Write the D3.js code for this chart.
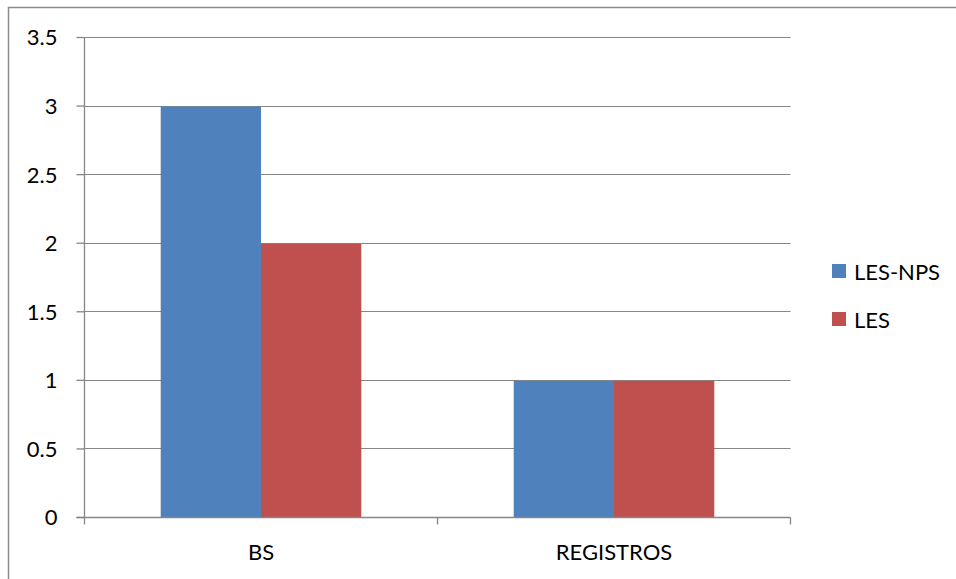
<!DOCTYPE html>
<html>
<head>
<meta charset="utf-8">
<script src="https://cdn.jsdelivr.net/npm/d3@7"></script>
<style>
  html, body { margin: 0; padding: 0; background: #fff; }
  svg { display: block; }
  text { font-family: Lato, "Open Sans", sans-serif; fill: #000; }
</style>
</head>
<body>
<svg id="chart" width="956" height="579"></svg>
<script>
const categories = ["BS", "REGISTROS"];
const seriesNames = ["LES-NPS", "LES"];
const lesNps = [3, 1];
const les = [2, 1];
const yTicks = [0, 0.5, 1, 1.5, 2, 2.5, 3, 3.5];
const colors = ["#4F81BD", "#C0504D"];

const svg = d3.select("#chart");
const W = 956, H = 579;
const plot = { left: 84.5, right: 790.5, top: 37, bottom: 517 };
const fontSize = 22;

// outer frame
svg.append("path")
  .attr("d", `M8.5,${H + 2} V7.5 H${W + 2}`)
  .attr("fill", "none").attr("stroke", "#8c8c8c").attr("stroke-width", 1.5);

const x0 = d3.scaleBand().domain(categories).range([plot.left, plot.right]);
const x1 = d3.scaleBand().domain(seriesNames)
  .range([0, x0.bandwidth()]).paddingOuter(0.76).paddingInner(0);
const y = d3.scaleLinear().domain([0, 3.5]).range([plot.bottom, plot.top]);

// horizontal gridlines
svg.append("g").selectAll("line").data(yTicks.filter(d => d > 0)).join("line")
  .attr("x1", plot.left).attr("x2", plot.right)
  .attr("y1", d => Math.round(y(d)) + 0.5).attr("y2", d => Math.round(y(d)) + 0.5)
  .attr("stroke", "#868686").attr("stroke-width", 1.2);

// bars
const data = categories.map((c, i) => ({ cat: c, vals: [lesNps[i], les[i]] }));
svg.append("g").selectAll("g").data(data).join("g")
  .attr("transform", d => `translate(${x0(d.cat)},0)`)
  .selectAll("rect").data(d => d.vals.map((v, j) => ({ s: seriesNames[j], v, j }))).join("rect")
  .attr("x", d => x1(d.s)).attr("width", x1.bandwidth())
  .attr("y", d => y(d.v) + 1).attr("height", d => plot.bottom - y(d.v) - 1)
  .attr("fill", d => colors[d.j]);

// y axis
const yAxis = svg.append("g").attr("transform", `translate(${plot.left},0)`)
  .call(d3.axisLeft(y).tickValues(yTicks).tickSize(8).tickPadding(19).tickFormat(d3.format("")));
yAxis.select(".domain").attr("d", `M0,${plot.top}V${plot.bottom + 0.5}`);
yAxis.selectAll("path, line").attr("stroke", "#868686").attr("stroke-width", 1.3);
yAxis.selectAll("text").attr("font-size", fontSize).attr("fill", "#000")
  .style("font-family", "Lato, 'Open Sans', sans-serif").attr("dy", "0.36em");

// x axis
const xAxis = svg.append("g").attr("transform", `translate(0,${plot.bottom + 0.5})`);
xAxis.append("line").attr("x1", plot.left - 8).attr("x2", plot.right)
  .attr("stroke", "#868686").attr("stroke-width", 1.3);
const xEdges = [plot.left, ...categories.map(c => x0(c) + x0.bandwidth())];
xAxis.selectAll("line.tick").data(xEdges).join("line").attr("class", "tick")
  .attr("x1", d => d).attr("x2", d => d).attr("y1", 0).attr("y2", 7)
  .attr("stroke", "#868686").attr("stroke-width", 1.3);
xAxis.selectAll("text").data(categories).join("text")
  .attr("x", d => x0(d) + x0.bandwidth() / 2).attr("y", 42)
  .attr("text-anchor", "middle").attr("font-size", fontSize).text(d => d);

// legend
const legend = svg.append("g").selectAll("g").data(seriesNames).join("g")
  .attr("transform", (d, i) => `translate(832,${264 + i * 48})`);
legend.append("rect").attr("width", 14).attr("height", 14).attr("fill", (d, i) => colors[i]);
legend.append("text").attr("x", 22).attr("y", 15.5).attr("font-size", fontSize).text(d => d);
</script>
</body>
</html>
